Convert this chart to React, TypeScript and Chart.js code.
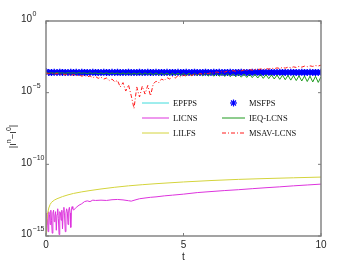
import React, { useEffect, useRef } from "react";
import { Chart, registerables } from "chart.js";

Chart.register(...registerables);

// ---------- data ----------
const tMain = [
  0, 0.1, 0.2, 0.3, 0.4, 0.5, 0.6, 0.7, 0.8, 0.9,
  1, 1.1, 1.2, 1.3, 1.4, 1.5, 1.6, 1.7, 1.8, 1.9,
  2, 2.1, 2.2, 2.3, 2.4, 2.5, 2.6, 2.7, 2.8, 2.9,
  3, 3.1, 3.2, 3.3, 3.4, 3.5, 3.6, 3.7, 3.8, 3.9,
  4, 4.1, 4.2, 4.3, 4.4, 4.5, 4.6, 4.7, 4.8, 4.9,
  5, 5.1, 5.2, 5.3, 5.4, 5.5, 5.6, 5.7, 5.8, 5.9,
  6, 6.1, 6.2, 6.3, 6.4, 6.5, 6.6, 6.7, 6.8, 6.9,
  7, 7.1, 7.2, 7.3, 7.4, 7.5, 7.6, 7.7, 7.8, 7.9,
  8, 8.1, 8.2, 8.3, 8.4, 8.5, 8.6, 8.7, 8.8, 8.9,
  9, 9.1, 9.2, 9.3, 9.4, 9.5, 9.6, 9.7, 9.8, 9.9,
  10,
];

const msfps = [
  2.95e-4, 2.6e-4, 2.55e-4, 2.62e-4, 2.58e-4, 2.64e-4, 2.57e-4, 2.6e-4, 2.55e-4, 2.63e-4,
  2.58e-4, 2.61e-4, 2.56e-4, 2.62e-4, 2.59e-4, 2.55e-4, 2.6e-4, 2.63e-4, 2.57e-4, 2.6e-4,
  2.56e-4, 2.62e-4, 2.58e-4, 2.55e-4, 2.61e-4, 2.59e-4, 2.63e-4, 2.56e-4, 2.6e-4, 2.58e-4,
  2.62e-4, 2.55e-4, 2.6e-4, 2.57e-4, 2.63e-4, 2.58e-4, 2.55e-4, 2.61e-4, 2.59e-4, 2.56e-4,
  2.62e-4, 2.58e-4, 2.6e-4, 2.55e-4, 2.63e-4, 2.57e-4, 2.6e-4, 2.58e-4, 2.62e-4, 2.56e-4,
  2.59e-4, 2.61e-4, 2.55e-4, 2.6e-4, 2.63e-4, 2.57e-4, 2.6e-4, 2.56e-4, 2.62e-4, 2.58e-4,
  2.55e-4, 2.61e-4, 2.59e-4, 2.63e-4, 2.57e-4, 2.6e-4, 2.56e-4, 2.62e-4, 2.58e-4, 2.6e-4,
  2.55e-4, 2.62e-4, 2.58e-4, 2.6e-4, 2.56e-4, 2.63e-4, 2.57e-4, 2.61e-4, 2.59e-4, 2.55e-4,
  2.6e-4, 2.62e-4, 2.57e-4, 2.6e-4, 2.58e-4, 2.63e-4, 2.56e-4, 2.6e-4, 2.59e-4, 2.62e-4,
  2.57e-4, 2.6e-4, 2.55e-4, 2.62e-4, 2.58e-4, 2.6e-4, 2.63e-4, 2.57e-4, 2.6e-4, 2.58e-4,
  2.62e-4,
];

const ieqLcns = [
  2.5e-4, 2.3e-4, 2.45e-4, 2.25e-4, 2.5e-4, 2.3e-4, 2.42e-4, 2.2e-4, 2.48e-4, 2.28e-4,
  2.45e-4, 2.2e-4, 2.5e-4, 2.25e-4, 2.4e-4, 2.15e-4, 2.45e-4, 2.2e-4, 2.4e-4, 2.1e-4,
  2.42e-4, 2.12e-4, 2.45e-4, 2.05e-4, 2.4e-4, 2.1e-4, 2.38e-4, 2.0e-4, 2.42e-4, 1.98e-4,
  2.4e-4, 1.9e-4, 2.35e-4, 1.95e-4, 2.38e-4, 1.85e-4, 2.4e-4, 1.9e-4, 2.32e-4, 1.8e-4,
  2.35e-4, 1.75e-4, 2.3e-4, 1.8e-4, 2.32e-4, 1.7e-4, 2.28e-4, 1.72e-4, 2.3e-4, 1.65e-4,
  2.25e-4, 1.6e-4, 2.28e-4, 1.55e-4, 2.2e-4, 1.58e-4, 2.22e-4, 1.5e-4, 2.18e-4, 1.45e-4,
  2.2e-4, 1.4e-4, 2.15e-4, 1.42e-4, 2.1e-4, 1.35e-4, 2.12e-4, 1.3e-4, 2.05e-4, 1.28e-4,
  2.0e-4, 1.2e-4, 2.02e-4, 1.15e-4, 1.95e-4, 1.12e-4, 1.92e-4, 1.05e-4, 1.9e-4, 1.0e-4,
  1.8e-4, 9.5e-5, 1.75e-4, 9.0e-5, 1.7e-4, 8.5e-5, 1.65e-4, 8.0e-5, 1.6e-4, 7.5e-5,
  1.55e-4, 7.0e-5, 1.5e-4, 6.5e-5, 1.45e-4, 6.0e-5, 1.42e-4, 5.6e-5, 1.38e-4, 5.2e-5,
  1.3e-4,
];

const msavLcns = [
  2.4e-4, 2.09e-4, 2.24e-4, 1.91e-4, 2.19e-4, 1.82e-4, 2.09e-4, 1.74e-4, 2.0e-4, 1.58e-4,
  1.86e-4, 1.51e-4, 1.74e-4, 1.41e-4, 1.62e-4, 1.26e-4, 1.48e-4, 1.12e-4, 1.35e-4, 1.0e-4,
  1.2e-4, 8.9e-5, 1.05e-4, 7.1e-5, 8.9e-5, 5.6e-5, 7.1e-5, 2.5e-5, 5.0e-5, 1.3e-5,
  3.5e-5, 6.0e-6, 7.9e-7, 2.5e-5, 5.0e-6, 2.8e-5, 8.0e-6, 3.2e-5, 6.0e-6, 4.0e-5,
  6.3e-5, 5.0e-5, 8.9e-5, 7.1e-5, 1.12e-4, 8.9e-5, 1.32e-4, 1.05e-4, 1.51e-4, 1.26e-4,
  1.66e-4, 1.41e-4, 1.82e-4, 1.58e-4, 2.0e-4, 1.74e-4, 2.19e-4, 1.91e-4, 2.4e-4, 2.09e-4,
  2.63e-4, 2.29e-4, 2.82e-4, 2.51e-4, 3.02e-4, 2.69e-4, 3.24e-4, 2.88e-4, 3.47e-4, 3.09e-4,
  3.63e-4, 3.31e-4, 3.89e-4, 3.47e-4, 4.07e-4, 3.72e-4, 4.37e-4, 3.89e-4, 4.57e-4, 4.17e-4,
  4.9e-4, 4.37e-4, 5.13e-4, 4.68e-4, 5.37e-4, 4.9e-4, 5.75e-4, 5.13e-4, 6.03e-4, 5.5e-4,
  6.31e-4, 5.75e-4, 6.76e-4, 6.03e-4, 7.08e-4, 6.46e-4, 7.41e-4, 6.76e-4, 7.76e-4, 7.24e-4,
  8.32e-4,
];

const tEpfps = [0, 0.5, 1, 1.5, 2, 2.5, 3, 3.5, 4, 4.5, 5, 5.5, 6, 6.5, 7, 7.5, 8, 8.5, 9, 9.5, 10];
const epfps = [
  2.75e-4, 2.55e-4, 2.58e-4, 2.56e-4, 2.6e-4, 2.57e-4, 2.55e-4, 2.59e-4, 2.56e-4, 2.58e-4,
  2.57e-4, 2.55e-4, 2.6e-4, 2.56e-4, 2.58e-4, 2.57e-4, 2.55e-4, 2.59e-4, 2.57e-4, 2.56e-4, 2.58e-4,
];

const tLicns = [
  0, 0.025, 0.05, 0.075, 0.1, 0.125, 0.15, 0.175, 0.2, 0.225,
  0.25, 0.275, 0.3, 0.325, 0.35, 0.375, 0.4, 0.425, 0.45, 0.475,
  0.5, 0.525, 0.55, 0.575, 0.6, 0.625, 0.65, 0.675, 0.7, 0.725,
  0.75, 0.775, 0.8, 0.825, 0.85, 0.875, 0.9, 0.925, 0.95, 0.975,
  1.0, 1.1, 1.2, 1.3, 1.4, 1.5, 1.6, 1.7, 1.8, 2.0,
  2.2, 2.4, 2.6, 2.8, 3.0, 3.1, 3.2, 3.4, 3.6, 3.8,
  4.0, 4.3, 4.6, 5.0, 5.5, 6.0, 6.5, 7.0, 7.5, 8.0,
  8.5, 9.0, 9.5, 10,
];
const licns = [
  6.31e-15, 3.98e-14, 1.58e-14, 2.0e-15, 5.0e-14, 3.16e-14, 6.31e-15, 6.31e-14, 1.26e-14, 1.58e-15,
  3.98e-14, 6.31e-14, 1.0e-14, 2.51e-14, 5.0e-14, 2.51e-15, 3.16e-14, 7.94e-14, 1.58e-14, 1.26e-15,
  5.0e-14, 3.98e-14, 1.26e-14, 6.31e-14, 3.16e-15, 5.0e-14, 1.0e-13, 2.51e-14, 2.0e-15, 3.98e-14,
  7.94e-14, 5.0e-14, 6.31e-15, 6.31e-14, 1.0e-13, 3.98e-14, 3.98e-15, 7.94e-14, 1.12e-13, 7.94e-14,
  6.31e-14, 1.0e-13, 1.41e-13, 1.78e-13, 2.51e-13, 2.82e-13, 2.51e-13, 3.16e-13, 3.02e-13, 3.16e-13,
  3.02e-13, 3.39e-13, 3.55e-13, 3.3e-13, 2.9e-13, 2.7e-13, 3.1e-13, 3.98e-13, 4.47e-13, 5.01e-13,
  5.37e-13, 6.31e-13, 7.08e-13, 8.32e-13, 1.07e-12, 1.26e-12, 1.48e-12, 1.7e-12, 2.0e-12, 2.34e-12,
  2.69e-12, 3.16e-12, 3.63e-12, 4.17e-12,
];

const tLilfs = [0, 0.02, 0.05, 0.1, 0.15, 0.2, 0.3, 0.4, 0.6, 0.8, 1.0, 1.3, 1.6, 2.0, 2.5, 3.0, 3.5, 4.0, 5.0, 6.0, 7.0, 8.0, 9.0, 10];
const lilfs = [
  1.58e-15, 6.31e-15, 3.16e-14, 8.91e-14, 1.58e-13, 2.24e-13, 3.16e-13, 3.98e-13, 5.62e-13, 7.41e-13,
  9.33e-13, 1.2e-12, 1.48e-12, 1.91e-12, 2.51e-12, 3.16e-12, 3.8e-12, 4.47e-12, 5.89e-12, 7.41e-12,
  8.91e-12, 1.02e-11, 1.15e-11, 1.29e-11,
];

const yTicks = [1, 1e-5, 1e-10, 1e-15];
const yTickExp = ["0", "\u22125", "\u221210", "\u221215"];
const xTicks = [0, 5, 10];
const xTickLabels = ["0", "5", "10"];

const legendNames = ["EPFPS", "LICNS", "LILFS", "MSFPS", "IEQ-LCNS", "MSAV-LCNS"];

// ---------- styles ----------
const C_CYAN = "#3fdcdc";
const C_BLUE = "#0000ff";
const C_MAG = "#dd33dd";
const C_GREEN = "#1f9a1f";
const C_YEL = "#d4d43c";
const C_RED = "#ff1a1a";
const RED_DASH = [4, 2, 1, 2];

const pts = (xs: number[], ys: number[]) => xs.map((x, i) => ({ x, y: ys[i] }));

const axesPlugin = {
  id: "matlabAxes",
  afterDraw(chart: any) {
    const { ctx, chartArea: a, scales } = chart;
    const xs = scales.x;
    const ys = scales.y;
    const sans = "'Liberation Sans', Arial, sans-serif";
    const serif = "'Liberation Serif', 'Times New Roman', serif";
    ctx.save();

    const line = (x1: number, y1: number, x2: number, y2: number) => {
      ctx.beginPath();
      ctx.moveTo(x1, y1);
      ctx.lineTo(x2, y2);
      ctx.stroke();
    };

    // box
    ctx.strokeStyle = "#7c7c7c";
    ctx.lineWidth = 1.4;
    ctx.strokeRect(a.left, a.top, a.right - a.left, a.bottom - a.top);

    // tick marks
    ctx.lineWidth = 1;
    yTicks.forEach((v) => {
      const y = ys.getPixelForValue(v);
      line(a.left, y, a.left + 3, y);
      line(a.right, y, a.right - 3, y);
    });
    xTicks.forEach((v) => {
      const x = xs.getPixelForValue(v);
      line(x, a.bottom, x, a.bottom - 3);
      line(x, a.top, x, a.top + 3);
    });

    // y tick labels 10^k
    ctx.fillStyle = "#262626";
    ctx.textBaseline = "middle";
    ctx.textAlign = "left";
    yTicks.forEach((v, i) => {
      const y = ys.getPixelForValue(v);
      ctx.font = `10px ${sans}`;
      ctx.fillText("10", 21, y - 1.5);
      const w = ctx.measureText("10").width;
      ctx.font = `7px ${sans}`;
      ctx.fillText(yTickExp[i], 21 + w + 0.5, y - 6.5);
    });

    // x tick labels
    ctx.font = `10px ${sans}`;
    ctx.textAlign = "center";
    xTicks.forEach((v, i) => {
      const x = xs.getPixelForValue(v);
      ctx.fillText(xTickLabels[i], x, a.bottom + 9.5);
    });

    // x title
    ctx.fillText("t", (a.left + a.right) / 2, a.bottom + 21);

    // y title |I^n - I^0|
    ctx.save();
    ctx.translate(13, (a.top + a.bottom) / 2 + 8);
    ctx.rotate(-Math.PI / 2);
    const parts: [string, boolean][] = [
      ["|I", false],
      ["n", true],
      ["\u2212I", false],
      ["0", true],
      ["|", false],
    ];
    let total = 0;
    parts.forEach(([s, sup]) => {
      ctx.font = sup ? `7px ${sans}` : `9.5px ${sans}`;
      total += ctx.measureText(s).width;
    });
    let cx = -total / 2;
    ctx.textAlign = "left";
    parts.forEach(([s, sup]) => {
      ctx.font = sup ? `7px ${sans}` : `9.5px ${sans}`;
      ctx.fillText(s, cx, sup ? -4 : 0);
      cx += ctx.measureText(s).width;
    });
    ctx.restore();

    // legend
    const rows = [103, 118, 133];
    const col1 = { x0: 142, x1: 169, tx: 173 };
    const col2 = { x0: 222, x1: 245, tx: 249 };
    const entries = [
      { col: col1, row: 0, color: C_CYAN, dash: [] as number[], star: false },
      { col: col1, row: 1, color: C_MAG, dash: [], star: false },
      { col: col1, row: 2, color: C_YEL, dash: [], star: false },
      { col: col2, row: 0, color: C_BLUE, dash: [], star: true },
      { col: col2, row: 1, color: C_GREEN, dash: [], star: false },
      { col: col2, row: 2, color: C_RED, dash: RED_DASH, star: false },
    ];
    ctx.font = `8.5px ${serif}`;
    ctx.textAlign = "left";
    ctx.textBaseline = "middle";
    entries.forEach((e, i) => {
      const y = rows[e.row];
      ctx.strokeStyle = e.color;
      ctx.lineWidth = 1;
      if (e.star) {
        const cxp = (e.col.x0 + e.col.x1) / 2;
        const r = 3.5;
        ctx.setLineDash([]);
        ctx.lineWidth = 1.2;
        line(cxp - r, y, cxp + r, y);
        line(cxp, y - r, cxp, y + r);
        const d = r * 0.7071;
        line(cxp - d, y - d, cxp + d, y + d);
        line(cxp - d, y + d, cxp + d, y - d);
      } else {
        ctx.setLineDash(e.dash);
        line(e.col.x0, y, e.col.x1, y);
        ctx.setLineDash([]);
      }
      ctx.fillStyle = "#111";
      ctx.fillText(legendNames[i], e.col.tx, y + 0.5);
    });

    ctx.restore();
  },
};

export default function App() {
  const ref = useRef<HTMLCanvasElement | null>(null);

  useEffect(() => {
    if (!ref.current) return;
    const chart = new Chart(ref.current, {
      type: "line",
      data: {
        datasets: [
          {
            label: legendNames[5],
            data: pts(tMain, msavLcns),
            borderColor: C_RED,
            borderWidth: 1,
            borderDash: RED_DASH,
            pointRadius: 0,
            fill: false,
          },
          {
            label: legendNames[2],
            data: pts(tLilfs, lilfs),
            borderColor: C_YEL,
            borderWidth: 1,
            pointRadius: 0,
            fill: false,
          },
          {
            label: legendNames[4],
            data: pts(tMain, ieqLcns),
            borderColor: C_GREEN,
            borderWidth: 1,
            pointRadius: 0,
            fill: false,
          },
          {
            label: legendNames[1],
            data: pts(tLicns, licns),
            borderColor: C_MAG,
            borderWidth: 1,
            pointRadius: 0,
            fill: false,
          },
          {
            label: legendNames[3],
            data: pts(tMain, msfps),
            showLine: false,
            borderColor: C_BLUE,
            pointStyle: "star",
            pointRadius: 3.5,
            pointBorderColor: C_BLUE,
            pointBorderWidth: 1.3,
            pointBackgroundColor: C_BLUE,
          },
          {
            label: legendNames[0],
            data: pts(tEpfps, epfps),
            borderColor: C_CYAN,
            borderWidth: 1.2,
            pointRadius: 0,
            fill: false,
          },
        ],
      },
      options: {
        responsive: false,
        animation: false,
        events: [],
        layout: { padding: { left: 46, right: 33, top: 21, bottom: 31 } },
        scales: {
          x: { type: "linear", min: 0, max: 10, display: false },
          y: { type: "logarithmic", min: 1e-15, max: 1, display: false },
        },
        plugins: {
          legend: { display: false },
          tooltip: { enabled: false },
        },
      },
      plugins: [axesPlugin],
    });
    return () => chart.destroy();
  }, []);

  return (
    <div style={{ position: "absolute", left: 0, top: 0, width: 354, height: 267, background: "#fff" }}>
      <canvas ref={ref} width={354} height={267} style={{ width: 354, height: 267 }} />
    </div>
  );
}
